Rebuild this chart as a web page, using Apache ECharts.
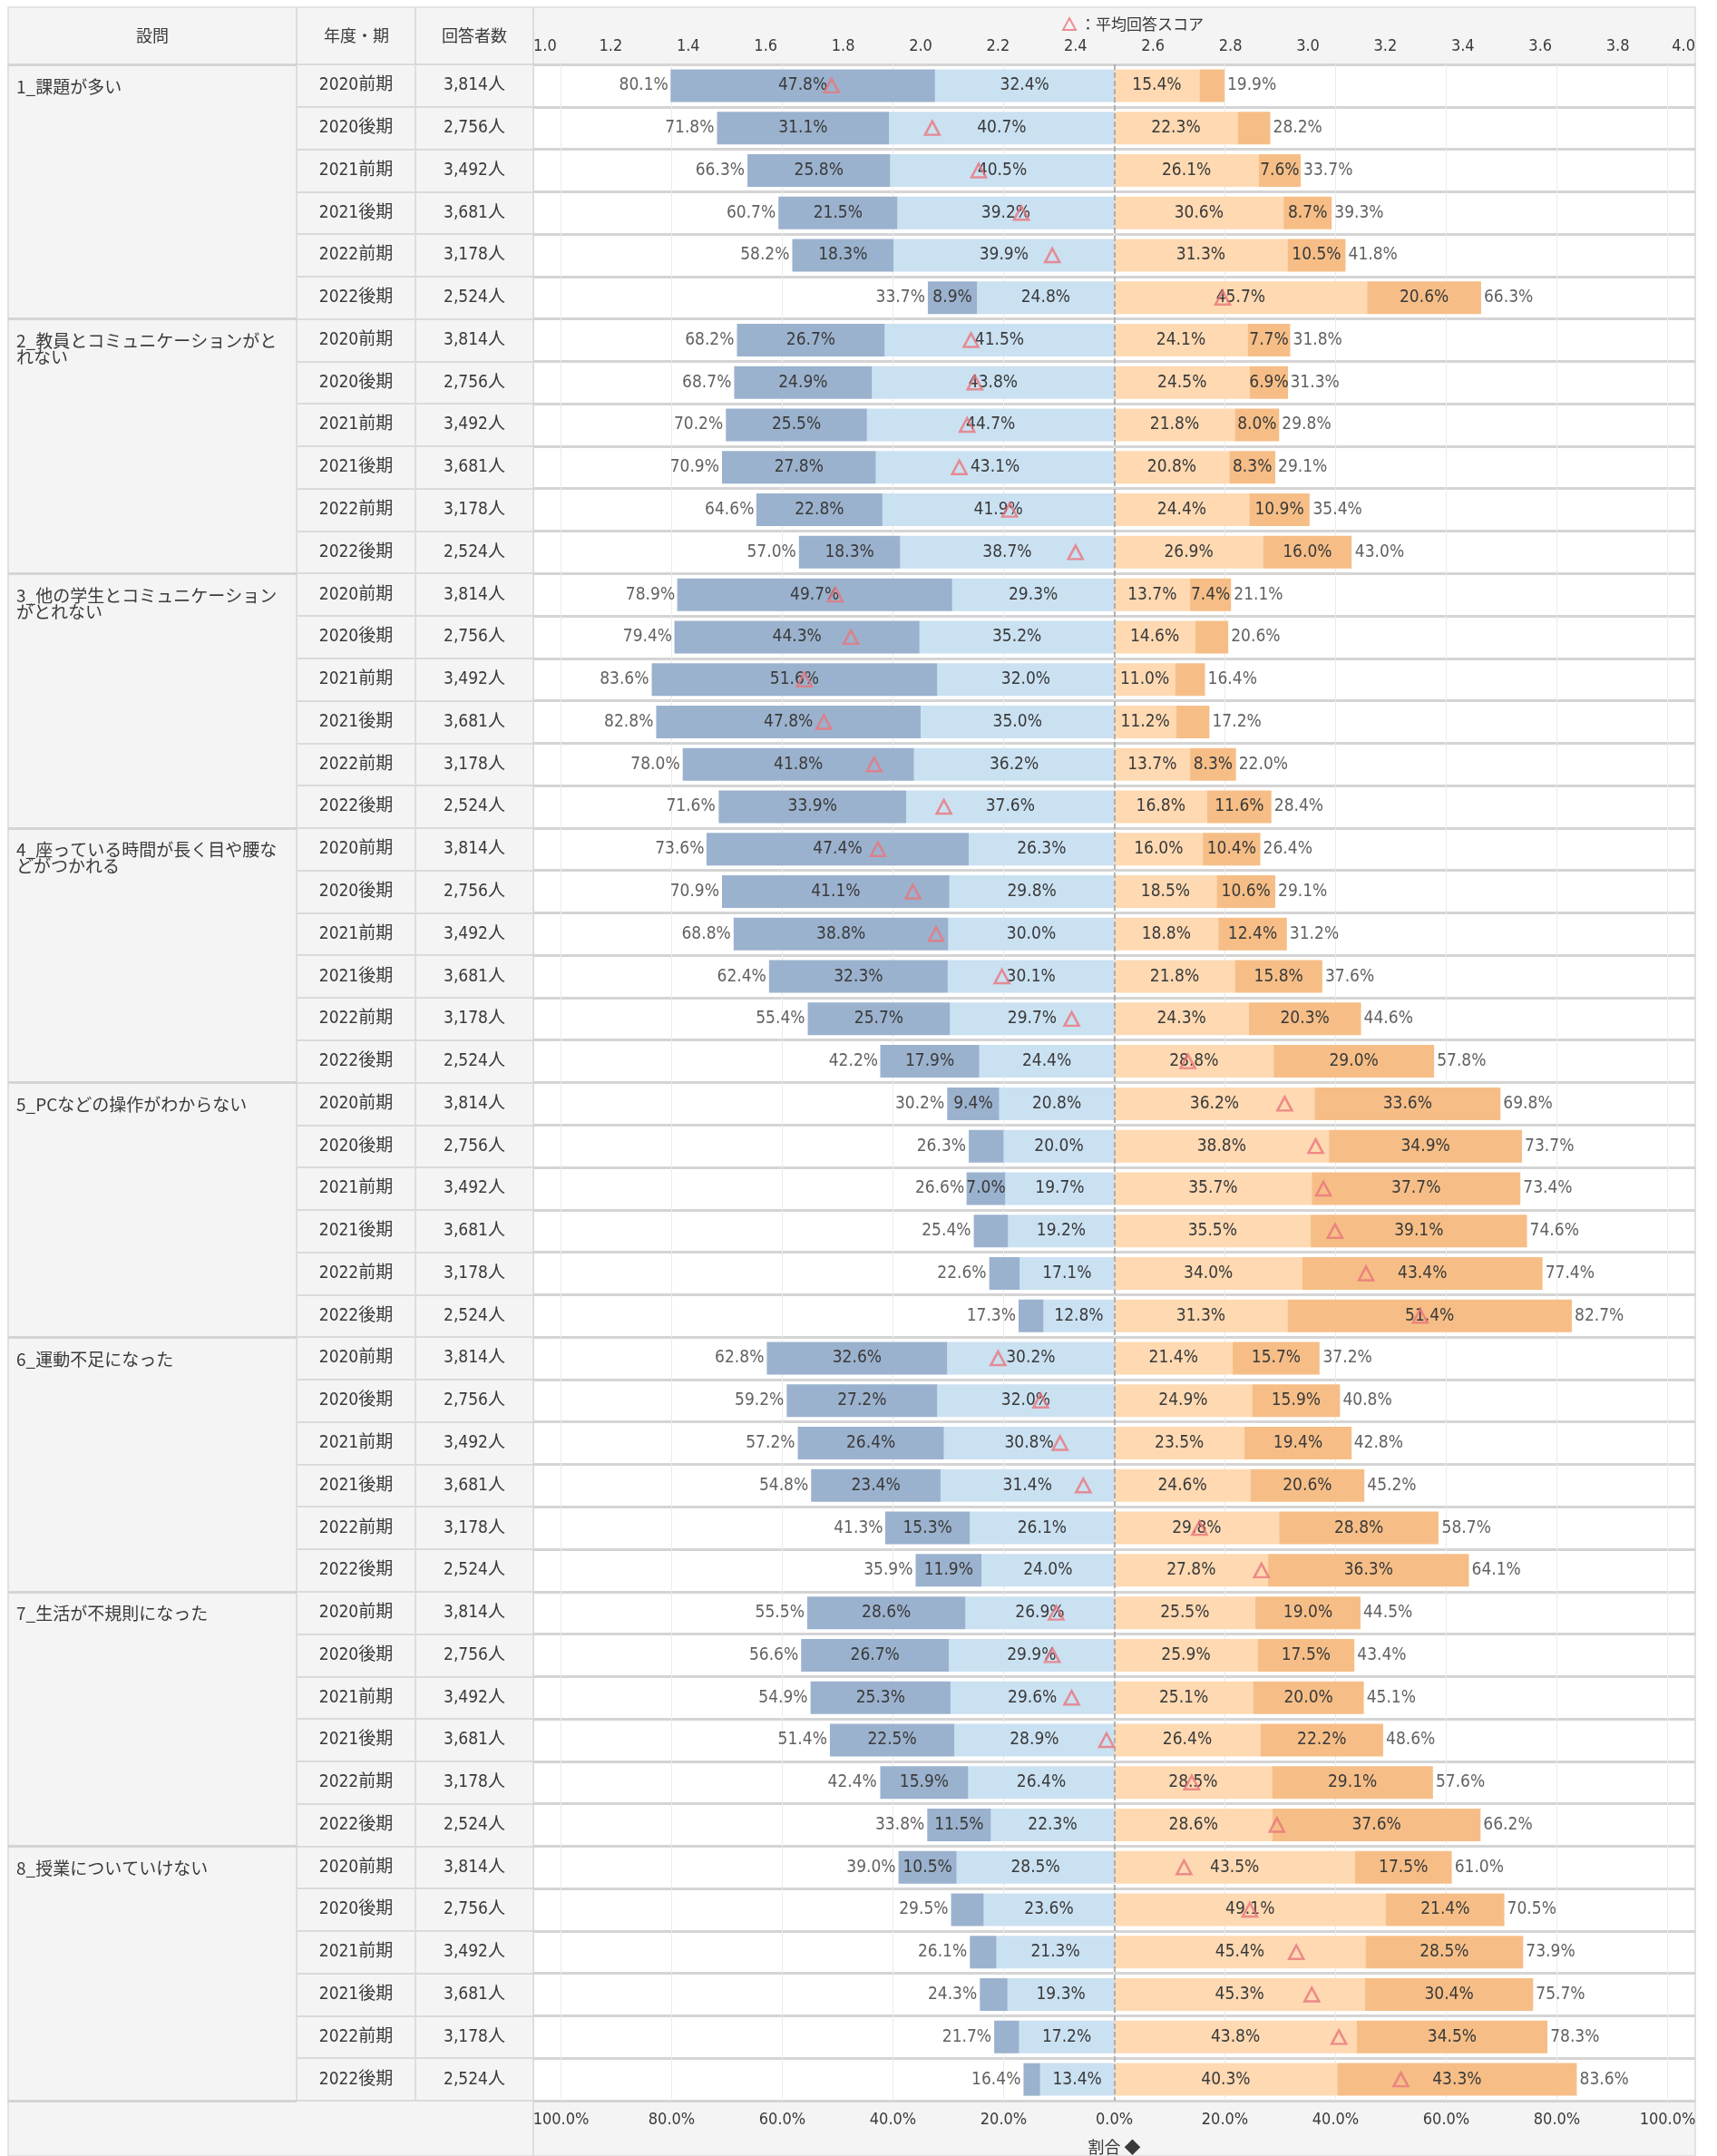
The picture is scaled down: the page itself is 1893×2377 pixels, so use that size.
<!DOCTYPE html>
<html>
<head>
<meta charset="utf-8">
<script src="https://cdn.jsdelivr.net/npm/echarts@6/dist/echarts.min.js"></script>
<style>
html, body { margin: 0; padding: 0; background: #fff; }
#main { width: 1893px; height: 2377px; }
</style>
</head>
<body>
<div id="main"></div>
<script>
// 設問・期・回答者数
var questions = ['1_課題が多い', '2_教員とコミュニケーションがと\nれない', '3_他の学生とコミュニケーション\nがとれない',
    '4_座っている時間が長く目や腰な\nどがつかれる', '5_PCなどの操作がわからない', '6_運動不足になった',
    '7_生活が不規則になった', '8_授業についていけない'];
var periods = ['2020前期', '2020後期', '2021前期', '2021後期', '2022前期', '2022後期'];
var respondents = ['3,814人', '2,756人', '3,492人', '3,681人', '3,178人', '2,524人'];

// 左側（濃い青 / 薄い青 / 合計）
var negStrong = [47.8, 31.1, 25.8, 21.5, 18.3, 8.9,   26.7, 24.9, 25.5, 27.8, 22.8, 18.3,
    49.7, 44.3, 51.6, 47.8, 41.8, 33.9,   47.4, 41.1, 38.8, 32.3, 25.7, 17.9,
    9.4, 6.3, 7.0, 6.2, 5.5, 4.5,   32.6, 27.2, 26.4, 23.4, 15.3, 11.9,
    28.6, 26.7, 25.3, 22.5, 15.9, 11.5,   10.5, 5.9, 4.8, 5.0, 4.5, 3.0];
var negWeak = [32.4, 40.7, 40.5, 39.2, 39.9, 24.8,   41.5, 43.8, 44.7, 43.1, 41.9, 38.7,
    29.3, 35.2, 32.0, 35.0, 36.2, 37.6,   26.3, 29.8, 30.0, 30.1, 29.7, 24.4,
    20.8, 20.0, 19.7, 19.2, 17.1, 12.8,   30.2, 32.0, 30.8, 31.4, 26.1, 24.0,
    26.9, 29.9, 29.6, 28.9, 26.4, 22.3,   28.5, 23.6, 21.3, 19.3, 17.2, 13.4];
var negTotal = [80.1, 71.8, 66.3, 60.7, 58.2, 33.7,   68.2, 68.7, 70.2, 70.9, 64.6, 57.0,
    78.9, 79.4, 83.6, 82.8, 78.0, 71.6,   73.6, 70.9, 68.8, 62.4, 55.4, 42.2,
    30.2, 26.3, 26.6, 25.4, 22.6, 17.3,   62.8, 59.2, 57.2, 54.8, 41.3, 35.9,
    55.5, 56.6, 54.9, 51.4, 42.4, 33.8,   39.0, 29.5, 26.1, 24.3, 21.7, 16.4];

// 右側（薄いオレンジ / 濃いオレンジ / 合計）
var posWeak = [15.4, 22.3, 26.1, 30.6, 31.3, 45.7,   24.1, 24.5, 21.8, 20.8, 24.4, 26.9,
    13.7, 14.6, 11.0, 11.2, 13.7, 16.8,   16.0, 18.5, 18.8, 21.8, 24.3, 28.8,
    36.2, 38.8, 35.7, 35.5, 34.0, 31.3,   21.4, 24.9, 23.5, 24.6, 29.8, 27.8,
    25.5, 25.9, 25.1, 26.4, 28.5, 28.6,   43.5, 49.1, 45.4, 45.3, 43.8, 40.3];
var posStrong = [4.5, 5.9, 7.6, 8.7, 10.5, 20.6,   7.7, 6.9, 8.0, 8.3, 10.9, 16.0,
    7.4, 6.0, 5.4, 6.0, 8.3, 11.6,   10.4, 10.6, 12.4, 15.8, 20.3, 29.0,
    33.6, 34.9, 37.7, 39.1, 43.4, 51.4,   15.7, 15.9, 19.4, 20.6, 28.8, 36.3,
    19.0, 17.5, 20.0, 22.2, 29.1, 37.6,   17.5, 21.4, 28.5, 30.4, 34.5, 43.3];
var posTotal = [19.9, 28.2, 33.7, 39.3, 41.8, 66.3,   31.8, 31.3, 29.8, 29.1, 35.4, 43.0,
    21.1, 20.6, 16.4, 17.2, 22.0, 28.4,   26.4, 29.1, 31.2, 37.6, 44.6, 57.8,
    69.8, 73.7, 73.4, 74.6, 77.4, 82.7,   37.2, 40.8, 42.8, 45.2, 58.7, 64.1,
    44.5, 43.4, 45.1, 48.6, 57.6, 66.2,   61.0, 70.5, 73.9, 75.7, 78.3, 83.6];

// 平均回答スコア（△）
var scores = [1.77, 2.03, 2.15, 2.26, 2.34, 2.78,   2.13, 2.14, 2.12, 2.10, 2.23, 2.40,
    1.78, 1.82, 1.70, 1.75, 1.88, 2.06,   1.89, 1.98, 2.04, 2.21, 2.39, 2.69,
    2.94, 3.02, 3.04, 3.07, 3.15, 3.29,   2.20, 2.31, 2.36, 2.42, 2.72, 2.88,
    2.35, 2.34, 2.39, 2.48, 2.70, 2.92,   2.68, 2.85, 2.97, 3.01, 3.08, 3.24];

var pctTicks = [-100, -80, -60, -40, -20, 0, 20, 40, 60, 80, 100];

var FONT = "'Liberation Sans Narrow','DejaVu Sans Condensed','Noto Sans CJK JP',sans-serif";
var CJK = "'Noto Sans CJK JP',sans-serif";
var TXT = '#3a3a3a';

var rowIds = [], periodCol = [], countCol = [], questionCol = [];
questions.forEach(function (q, qi) {
    periods.forEach(function (p, pi) {
        rowIds.push('r' + (qi * 6 + pi));
        periodCol.push(p);
        countCol.push(respondents[pi]);
        questionCol.push(pi === 0 ? q : '');
    });
});

var myChart = echarts.init(document.getElementById('main'));

function pctLabel(p) {
    var v = Math.abs(p.value);
    return v >= 6.5 ? v.toFixed(1) + '%' : '';
}
var barLabel = { show: true, position: 'inside', formatter: pctLabel, color: TXT, fontSize: 19, fontFamily: FONT };

function tableAxis(grid, list, margin, extra) {
    var label = { interval: 0, margin: margin, align: 'center', color: TXT, fontSize: 19, fontFamily: FONT,
        formatter: function (v, i) { return list[i]; } };
    for (var k in extra) label[k] = extra[k];
    return {
        gridIndex: grid, type: 'category', inverse: true, data: rowIds,
        axisLine: { show: false }, axisTick: { show: false },
        axisLabel: label,
        splitLine: { show: true, interval: 0, lineStyle: { color: '#dadada', width: 2 } }
    };
}

var qAxis = tableAxis(3, questionCol, -9, {
    align: 'left', verticalAlign: 'top', lineHeight: 18, padding: [-8, 0, 0, 0], fontFamily: CJK
});
qAxis.splitLine = { show: true, interval: function (i) { return i % 6 === 0; }, lineStyle: { color: '#d4d4d4', width: 3 } };

var option = {
    backgroundColor: '#fff',
    animation: false,
    textStyle: { fontFamily: FONT },
    legend: {
        top: 13, left: 1166, icon: 'triangle', itemWidth: 14, itemHeight: 13, itemGap: 4,
        selectedMode: false, data: ['平均回答スコア'], formatter: '：{name}',
        textStyle: { fontFamily: CJK, fontSize: 17, color: TXT }
    },
    graphic: [
        { type: 'rect', z: -1, shape: { x: 9, y: 8, width: 1860, height: 63 }, style: { fill: '#f4f4f4', stroke: '#dcdcdc', lineWidth: 1.5 } },
        { type: 'rect', z: -1, shape: { x: 9, y: 2316, width: 1860, height: 61 }, style: { fill: '#f4f4f4', stroke: '#dcdcdc', lineWidth: 1.5 } },
        { type: 'line', z: -1, shape: { x1: 327, y1: 8, x2: 327, y2: 71 }, style: { stroke: '#dcdcdc', lineWidth: 2 } },
        { type: 'line', z: -1, shape: { x1: 458, y1: 8, x2: 458, y2: 71 }, style: { stroke: '#dcdcdc', lineWidth: 2 } },
        { type: 'line', z: -1, shape: { x1: 588, y1: 8, x2: 588, y2: 71 }, style: { stroke: '#dcdcdc', lineWidth: 2 } },
        { type: 'line', z: -1, shape: { x1: 588, y1: 2316, x2: 588, y2: 2377 }, style: { stroke: '#dcdcdc', lineWidth: 2 } },
        { type: 'text', x: 168, y: 39, style: { text: '設問', fontFamily: CJK, fontSize: 18, fill: TXT, align: 'center', verticalAlign: 'middle' } },
        { type: 'text', x: 393, y: 39, style: { text: '年度・期', fontFamily: CJK, fontSize: 18, fill: TXT, align: 'center', verticalAlign: 'middle' } },
        { type: 'text', x: 523, y: 39, style: { text: '回答者数', fontFamily: CJK, fontSize: 18, fill: TXT, align: 'center', verticalAlign: 'middle' } }
    ],
    grid: [
        { left: 588, right: 24, top: 71, bottom: 61, outerBoundsMode: 'none', show: true, backgroundColor: '#fff', borderColor: '#d6d6d6', borderWidth: 1.5 },
        { left: 458, width: 130, top: 71, bottom: 61, outerBoundsMode: 'none', show: true, backgroundColor: '#f4f4f4', borderColor: '#d9d9d9', borderWidth: 1.5 },
        { left: 327, width: 131, top: 71, bottom: 61, outerBoundsMode: 'none', show: true, backgroundColor: '#f4f4f4', borderColor: '#d9d9d9', borderWidth: 1.5 },
        { left: 9, width: 318, top: 71, bottom: 61, outerBoundsMode: 'none', show: true, backgroundColor: '#f4f4f4', borderColor: '#d9d9d9', borderWidth: 1.5 }
    ],
    xAxis: [
        {
            gridIndex: 0, type: 'value', min: -105, max: 105, position: 'bottom',
            axisLine: { show: false },
            axisTick: { show: false, customValues: pctTicks },
            axisLabel: {
                customValues: pctTicks, margin: 12, fontSize: 18, color: TXT,
                formatter: function (v) { return Math.abs(v).toFixed(1) + '%'; }
            },
            splitLine: { show: true, lineStyle: { color: '#ebebeb', width: 1 } },
            name: '割合 ◆', nameLocation: 'middle', nameGap: 42,
            nameTextStyle: { fontFamily: CJK, fontSize: 18, color: TXT }
        },
        {
            gridIndex: 0, type: 'value', min: 1, max: 4, interval: 0.2, position: 'top',
            axisLine: { show: false }, axisTick: { show: false }, splitLine: { show: false },
            axisLabel: {
                margin: 11, fontSize: 18, color: TXT, alignMinLabel: 'left', alignMaxLabel: 'right',
                formatter: function (v) { return v.toFixed(1); }
            }
        },
        { gridIndex: 1, type: 'value', show: false },
        { gridIndex: 2, type: 'value', show: false },
        { gridIndex: 3, type: 'value', show: false }
    ],
    yAxis: [
        {
            gridIndex: 0, type: 'category', inverse: true, data: rowIds,
            axisLine: { show: false }, axisTick: { show: false }, axisLabel: { show: false },
            splitLine: { show: true, interval: 0, lineStyle: { color: '#d4d4d4', width: 3 } }
        },
        tableAxis(1, countCol, -65, {}),
        tableAxis(2, periodCol, -65.5, {}),
        qAxis
    ],
    series: [
        {
            type: 'bar', stack: 'all', barWidth: 36, data: posWeak,
            itemStyle: { color: '#fed9b2' }, label: barLabel,
            markLine: {
                silent: true, symbol: 'none', label: { show: false },
                lineStyle: { type: 'dashed', color: '#9f9f9f', width: 1.5 },
                data: [{ xAxis: 0 }]
            }
        },
        { type: 'bar', stack: 'all', barWidth: 36, data: posStrong, itemStyle: { color: '#f6be86' }, label: barLabel },
        { type: 'bar', stack: 'all', barWidth: 36, data: negWeak.map(function (v) { return -v; }), itemStyle: { color: '#cae1f2' }, label: barLabel },
        { type: 'bar', stack: 'all', barWidth: 36, data: negStrong.map(function (v) { return -v; }), itemStyle: { color: '#9bb2ce' }, label: barLabel },
        {
            type: 'scatter', symbolSize: 0.1, itemStyle: { color: 'rgba(0,0,0,0)' }, silent: true,
            data: posTotal.map(function (v, i) { return [v, i]; }),
            label: { show: true, position: 'right', distance: 3, color: TXT, fontSize: 19, fontFamily: FONT,
                formatter: function (p) { return p.value[0].toFixed(1) + '%'; } }
        },
        {
            type: 'scatter', symbolSize: 0.1, itemStyle: { color: 'rgba(0,0,0,0)' }, silent: true,
            data: negTotal.map(function (v, i) { return [-v, i]; }),
            label: { show: true, position: 'left', distance: 3, color: TXT, fontSize: 19, fontFamily: FONT,
                formatter: function (p) { return Math.abs(p.value[0]).toFixed(1) + '%'; } }
        },
        {
            name: '平均回答スコア', type: 'scatter', xAxisIndex: 1, yAxisIndex: 0, z: 6,
            symbol: 'triangle', symbolSize: [16, 15],
            itemStyle: { color: 'rgba(0,0,0,0)', borderColor: '#e8757c', borderWidth: 2.5 },
            data: scores.map(function (s, i) { return [s, i]; })
        }
    ]
};

myChart.setOption(option);

window.onresize = function () {
    myChart.resize();
};
</script>
</body>
</html>
